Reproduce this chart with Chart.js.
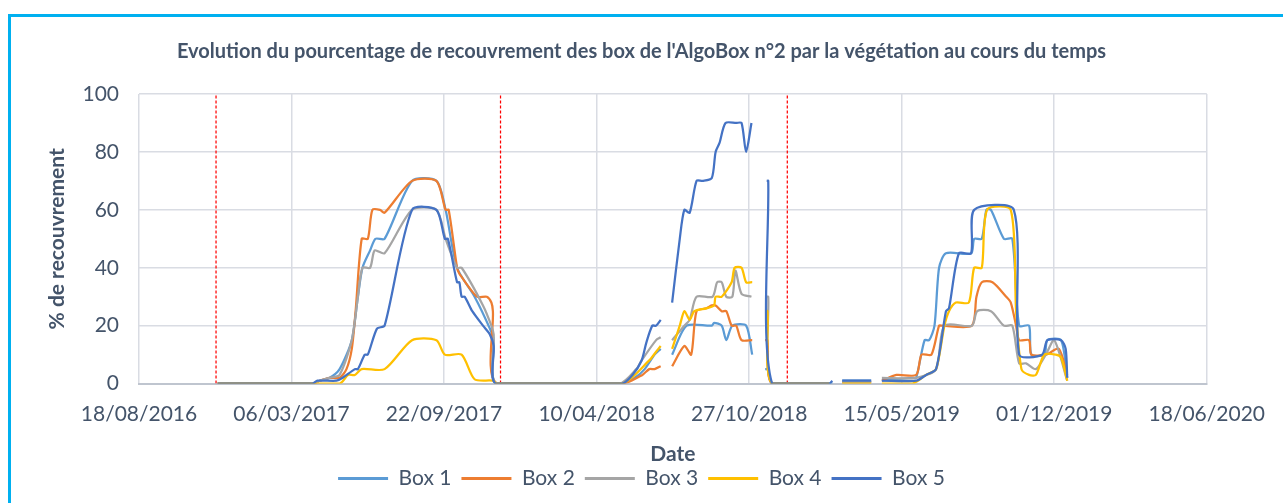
<!DOCTYPE html>
<html>
<head>
<meta charset="utf-8">
<script src="https://cdn.jsdelivr.net/npm/chart.js@4.4.1/dist/chart.umd.min.js"></script>
<style>
  html, body { margin: 0; padding: 0; background: #fff; }
  #wrap { position: relative; width: 1283px; height: 503px; overflow: hidden; }
  #frame { position: absolute; left: 8px; top: 14px; width: 1400px; height: 600px;
           border-left: 3px solid #00B0F0; border-top: 3px solid #00B0F0; pointer-events: none; }
  canvas { position: absolute; left: 0; top: 0; }
</style>
</head>
<body>
<div id="wrap">
  <canvas id="chart" width="1283" height="503"></canvas>
  <div id="frame"></div>
</div>
<script>
var box1 = [
  ['29/11/2016', 0], ['03/04/2017', 0], ['12/04/2017', 1], ['25/04/2017', 2], ['08/05/2017', 5],
  ['24/05/2017', 15], ['01/06/2017', 30], ['07/06/2017', 40], ['17/06/2017', 46], ['24/06/2017', 50],
  ['06/07/2017', 50], ['11/08/2017', 70], ['12/09/2017', 70], ['24/09/2017', 60], ['09/10/2017', 40],
  ['01/11/2017', 30], ['21/11/2017', 19], ['26/11/2017', 15], ['30/11/2017', 0],
  ['10/05/2018', 0], ['30/05/2018', 2], ['12/06/2018', 5], ['25/06/2018', 10], ['03/07/2018', 12],
  ['10/07/2018', null],
  ['18/07/2018', 10], ['06/08/2018', 20], ['08/09/2018', 20], ['11/09/2018', 21], ['21/09/2018', 20],
  ['27/09/2018', 15], ['05/10/2018', 20], ['23/10/2018', 20], ['31/10/2018', 10],
  ['08/11/2018', null],
  ['17/11/2018', 5], ['20/11/2018', 5], ['26/11/2018', 0], ['09/02/2019', 0], ['13/02/2019', 0.5],
  ['20/02/2019', null],
  ['26/02/2019', 1], ['05/04/2019', 1],
  ['12/04/2019', null],
  ['19/04/2019', 1], ['29/05/2019', 2], ['03/06/2019', 2], ['14/06/2019', 15], ['20/06/2019', 15],
  ['27/06/2019', 20], ['03/07/2019', 40], ['12/07/2019', 45], ['14/08/2019', 45], ['18/08/2019', 50],
  ['28/08/2019', 50], ['03/09/2019', 60], ['09/09/2019', 60], ['26/09/2019', 50], ['07/10/2019', 50],
  ['16/10/2019', 20], ['29/10/2019', 20], ['01/11/2019', 10], ['18/11/2019', 10], ['22/11/2019', 15],
  ['10/12/2019', 15], ['18/12/2019', 2]
];

var box2 = [
  ['29/11/2016', 0], ['03/04/2017', 0], ['12/04/2017', 1], ['25/04/2017', 2], ['08/05/2017', 2],
  ['17/05/2017', 5], ['24/05/2017', 12], ['29/05/2017', 25], ['06/06/2017', 50], ['14/06/2017', 50],
  ['20/06/2017', 60], ['30/06/2017', 60], ['06/07/2017', 59], ['11/08/2017', 70], ['12/09/2017', 70],
  ['24/09/2017', 60], ['28/09/2017', 60], ['09/10/2017', 40], ['12/10/2017', 38], ['04/11/2017', 30],
  ['17/11/2017', 30], ['23/11/2017', 28], ['25/11/2017', 25], ['30/11/2017', 0],
  ['14/05/2018', 0], ['09/06/2018', 3], ['18/06/2018', 5], ['25/06/2018', 5], ['03/07/2018', 6],
  ['10/07/2018', null],
  ['18/07/2018', 6], ['03/08/2018', 13], ['12/08/2018', 10], ['19/08/2018', 25], ['01/09/2018', 26],
  ['08/09/2018', 27], ['13/09/2018', 27], ['21/09/2018', 25], ['27/09/2018', 25], ['04/10/2018', 20],
  ['10/10/2018', 20], ['17/10/2018', 15], ['31/10/2018', 15],
  ['08/11/2018', null],
  ['17/11/2018', 15], ['20/11/2018', 15], ['26/11/2018', 0], ['09/02/2019', 0],
  ['20/02/2019', null],
  ['26/02/2019', 0.5], ['05/04/2019', 0.5],
  ['12/04/2019', null],
  ['19/04/2019', 1], ['08/05/2019', 3], ['03/06/2019', 3], ['10/06/2019', 10], ['23/06/2019', 10],
  ['03/07/2019', 20], ['07/07/2019', 20], ['15/08/2019', 20], ['21/08/2019', 30], ['28/08/2019', 35],
  ['11/09/2019', 35], ['29/09/2019', 30], ['05/10/2019', 28], ['12/10/2019', 20], ['16/10/2019', 15],
  ['29/10/2019', 15], ['01/11/2019', 10], ['20/11/2019', 10], ['07/12/2019', 12], ['18/12/2019', 3]
];

var box3 = [
  ['29/11/2016', 0], ['03/04/2017', 0], ['12/04/2017', 1], ['25/04/2017', 2], ['08/05/2017', 3],
  ['24/05/2017', 15], ['01/06/2017', 30], ['07/06/2017', 40], ['17/06/2017', 40], ['23/06/2017', 46],
  ['06/07/2017', 45], ['11/08/2017', 60], ['12/09/2017', 60], ['24/09/2017', 50], ['09/10/2017', 40],
  ['15/10/2017', 40], ['12/11/2017', 27], ['23/11/2017', 20], ['26/11/2017', 17], ['30/11/2017', 0],
  ['10/05/2018', 0], ['01/06/2018', 5], ['08/06/2018', 8], ['27/06/2018', 15], ['03/07/2018', 16],
  ['10/07/2018', null],
  ['18/07/2018', 15], ['03/08/2018', 20], ['10/08/2018', 22], ['19/08/2018', 30], ['09/09/2018', 30],
  ['15/09/2018', 35], ['21/09/2018', 35], ['27/09/2018', 30], ['05/10/2018', 30], ['09/10/2018', 39],
  ['17/10/2018', 31], ['30/10/2018', 30],
  ['08/11/2018', null],
  ['19/11/2018', 30], ['21/11/2018', 30], ['26/11/2018', 0], ['09/02/2019', 0],
  ['20/02/2019', null],
  ['26/02/2019', 0.5], ['05/04/2019', 0.5],
  ['12/04/2019', null],
  ['19/04/2019', 2], ['03/06/2019', 2], ['29/06/2019', 5], ['10/07/2019', 20], ['15/08/2019', 20],
  ['22/08/2019', 25], ['09/09/2019', 25], ['26/09/2019', 20], ['07/10/2019', 20], ['16/10/2019', 7],
  ['25/10/2019', 7], ['07/11/2019', 5], ['20/11/2019', 10], ['01/12/2019', 15], ['18/12/2019', 1]
];

var box4 = [
  ['29/11/2016', 0], ['08/05/2017', 0], ['19/05/2017', 3], ['28/05/2017', 3], ['06/06/2017', 5],
  ['06/07/2017', 5], ['11/08/2017', 15], ['12/09/2017', 15], ['23/09/2017', 10], ['15/10/2017', 10],
  ['01/11/2017', 1.5], ['25/11/2017', 1], ['30/11/2017', 0],
  ['13/05/2018', 0], ['18/06/2018', 8], ['27/06/2018', 11], ['03/07/2018', 13],
  ['10/07/2018', null],
  ['18/07/2018', 12], ['28/07/2018', 20], ['03/08/2018', 25], ['10/08/2018', 22], ['16/08/2018', 25],
  ['01/09/2018', 26], ['11/09/2018', 27], ['13/09/2018', 30], ['21/09/2018', 30], ['04/10/2018', 35],
  ['08/10/2018', 40], ['17/10/2018', 40], ['23/10/2018', 35], ['31/10/2018', 35],
  ['08/11/2018', null],
  ['17/11/2018', 25], ['20/11/2018', 25], ['26/11/2018', 0], ['09/02/2019', 0],
  ['20/02/2019', null],
  ['26/02/2019', 0], ['05/04/2019', 0],
  ['12/04/2019', null],
  ['19/04/2019', 0], ['29/05/2019', 0], ['16/06/2019', 3], ['29/06/2019', 5], ['10/07/2019', 20],
  ['16/07/2019', 25], ['25/07/2019', 28], ['11/08/2019', 28], ['18/08/2019', 40], ['28/08/2019', 40],
  ['04/09/2019', 60], ['05/10/2019', 60], ['12/10/2019', 25], ['19/10/2019', 5], ['29/10/2019', 3],
  ['07/11/2019', 3], ['18/11/2019', 10], ['03/12/2019', 10], ['10/12/2019', 9], ['18/12/2019', 1]
];

var box5 = [
  ['29/11/2016', 0], ['02/04/2017', 0], ['09/04/2017', 1], ['04/05/2017', 1], ['12/05/2017', 2],
  ['28/05/2017', 5], ['01/06/2017', 5], ['10/06/2017', 10], ['14/06/2017', 10], ['26/06/2017', 19],
  ['06/07/2017', 20], ['11/08/2017', 60], ['12/09/2017', 60], ['23/09/2017', 50], ['27/09/2017', 50],
  ['09/10/2017', 35], ['12/10/2017', 35], ['15/10/2017', 30], ['19/10/2017', 30], ['29/10/2017', 25],
  ['12/11/2017', 20], ['21/11/2017', 17], ['26/11/2017', 13], ['29/11/2017', 0],
  ['13/05/2018', 0], ['27/05/2018', 3], ['08/06/2018', 8], ['14/06/2018', 14], ['22/06/2018', 20],
  ['27/06/2018', 20], ['03/07/2018', 22],
  ['10/07/2018', null],
  ['18/07/2018', 28], ['28/07/2018', 50], ['03/08/2018', 60], ['10/08/2018', 59], ['19/08/2018', 70],
  ['27/08/2018', 70], ['08/09/2018', 71], ['13/09/2018', 80], ['18/09/2018', 83], ['26/09/2018', 90],
  ['10/10/2018', 90], ['17/10/2018', 90], ['23/10/2018', 80], ['30/10/2018', 90],
  ['08/11/2018', null],
  ['19/11/2018', 70], ['21/11/2018', 70], ['26/11/2018', 0], ['09/02/2019', 0], ['13/02/2019', 1],
  ['20/02/2019', null],
  ['26/02/2019', 1], ['05/04/2019', 1],
  ['12/04/2019', null],
  ['19/04/2019', 1], ['03/06/2019', 1], ['16/06/2019', 3], ['29/06/2019', 5], ['12/07/2019', 25],
  ['16/07/2019', 26], ['29/07/2019', 45], ['14/08/2019', 45], ['18/08/2019', 60], ['09/10/2019', 60],
  ['16/10/2019', 10], ['15/11/2019', 10], ['22/11/2019', 15], ['10/12/2019', 15], ['16/12/2019', 12],
  ['18/12/2019', 2]
];

var seriesNames = ['Box 1', 'Box 2', 'Box 3', 'Box 4', 'Box 5'];
var seriesColors = ['#5B9BD5', '#ED7D31', '#A5A5A5', '#FFC000', '#4472C4'];
var separationDates = ['27/11/2016', '05/12/2017', '16/12/2018'];

var xMin = '18/08/2016';
var xMax = '18/06/2020';
var xStepDays = 200;

var textColor = '#44546A';
var fontName = 'Lato, "Open Sans", sans-serif';

// date jj/mm/aaaa -> numero de jour (comme Excel)
function toDay(s) {
  var p = s.split('/').map(Number);
  return Date.UTC(p[2], p[1] - 1, p[0]) / 86400000 + 25569;
}
function fromDay(n) {
  var d = new Date((n - 25569) * 86400000);
  var dd = String(d.getUTCDate()).padStart(2, '0');
  var mm = String(d.getUTCMonth() + 1).padStart(2, '0');
  return dd + '/' + mm + '/' + d.getUTCFullYear();
}

var boxes = [box1, box2, box3, box4, box5];
var datasets = boxes.map(function (rows, i) {
  return {
    label: seriesNames[i],
    data: rows.map(function (r) { return { x: toDay(r[0]), y: r[1] }; }),
    borderColor: seriesColors[i],
    backgroundColor: seriesColors[i],
    borderWidth: 2.25,
    pointRadius: 0,
    tension: 0.25,
    spanGaps: false,
    order: 5 - i
  };
});

separationDates.forEach(function (d) {
  datasets.push({
    label: 'separation',
    data: [{ x: toDay(d), y: 0 }, { x: toDay(d), y: 100 }],
    borderColor: '#FF0000',
    borderWidth: 1.25,
    borderDash: [3, 2],
    pointRadius: 0,
    order: 10
  });
});

new Chart(document.getElementById('chart').getContext('2d'), {
  type: 'line',
  data: { datasets: datasets },
  options: {
    responsive: false,
    animation: false,
    layout: { padding: { left: 0, right: 0, top: 0, bottom: 4 } },
    plugins: {
      title: {
        display: true,
        text: "Evolution du pourcentage de recouvrement des box de l'AlgoBox n°2 par la végétation au cours du temps",
        color: textColor,
        font: { family: fontName, size: 20, weight: 'bold' },
        padding: { top: 40, bottom: 30 }
      },
      legend: {
        position: 'bottom',
        labels: {
          color: textColor,
          font: { family: fontName, size: 21 },
          boxWidth: 50,
          boxHeight: 3,
          padding: 10,
          sort: function (a, b) { return a.datasetIndex - b.datasetIndex; },
          generateLabels: function (chart) {
            var items = Chart.defaults.plugins.legend.labels.generateLabels(chart);
            return items.filter(function (it) { return it.datasetIndex < 5; }).map(function (it) {
              it.fillStyle = seriesColors[it.datasetIndex];
              it.lineWidth = 0;
              it.lineDash = [];
              return it;
            });
          }
        }
      },
      tooltip: { enabled: false }
    },
    scales: {
      x: {
        type: 'linear',
        min: toDay(xMin),
        max: toDay(xMax),
        ticks: {
          stepSize: xStepDays,
          color: textColor,
          font: { family: fontName, size: 21 },
          padding: 18,
          maxRotation: 0,
          autoSkip: false,
          callback: function (v) { return fromDay(v); }
        },
        grid: { color: '#D9DCE3', lineWidth: 1.5, drawTicks: false },
        border: { color: '#BFC5CF', width: 2 },
        title: {
          display: true,
          text: 'Date',
          color: textColor,
          font: { family: fontName, size: 21, weight: 'bold' },
          padding: { top: -3, bottom: -9 }
        }
      },
      y: {
        min: 0,
        max: 100,
        ticks: {
          stepSize: 20,
          color: textColor,
          font: { family: fontName, size: 21 },
          padding: 20
        },
        grid: { color: '#D9DCE3', lineWidth: 1.5, drawTicks: false },
        border: { display: false },
        title: {
          display: true,
          text: '% de recouvrement',
          color: textColor,
          font: { family: fontName, size: 21, weight: 'bold' },
          padding: { top: 45, bottom: 0 }
        },
        afterFit: function (scale) { scale.width = 139; }
      },
      yRight: {
        position: 'right',
        display: true,
        min: 0,
        max: 100,
        ticks: { display: false },
        grid: { display: false, drawTicks: false },
        border: { display: false },
        afterFit: function (scale) { scale.width = 75; }
      }
    }
  }
});
</script>
</body>
</html>
